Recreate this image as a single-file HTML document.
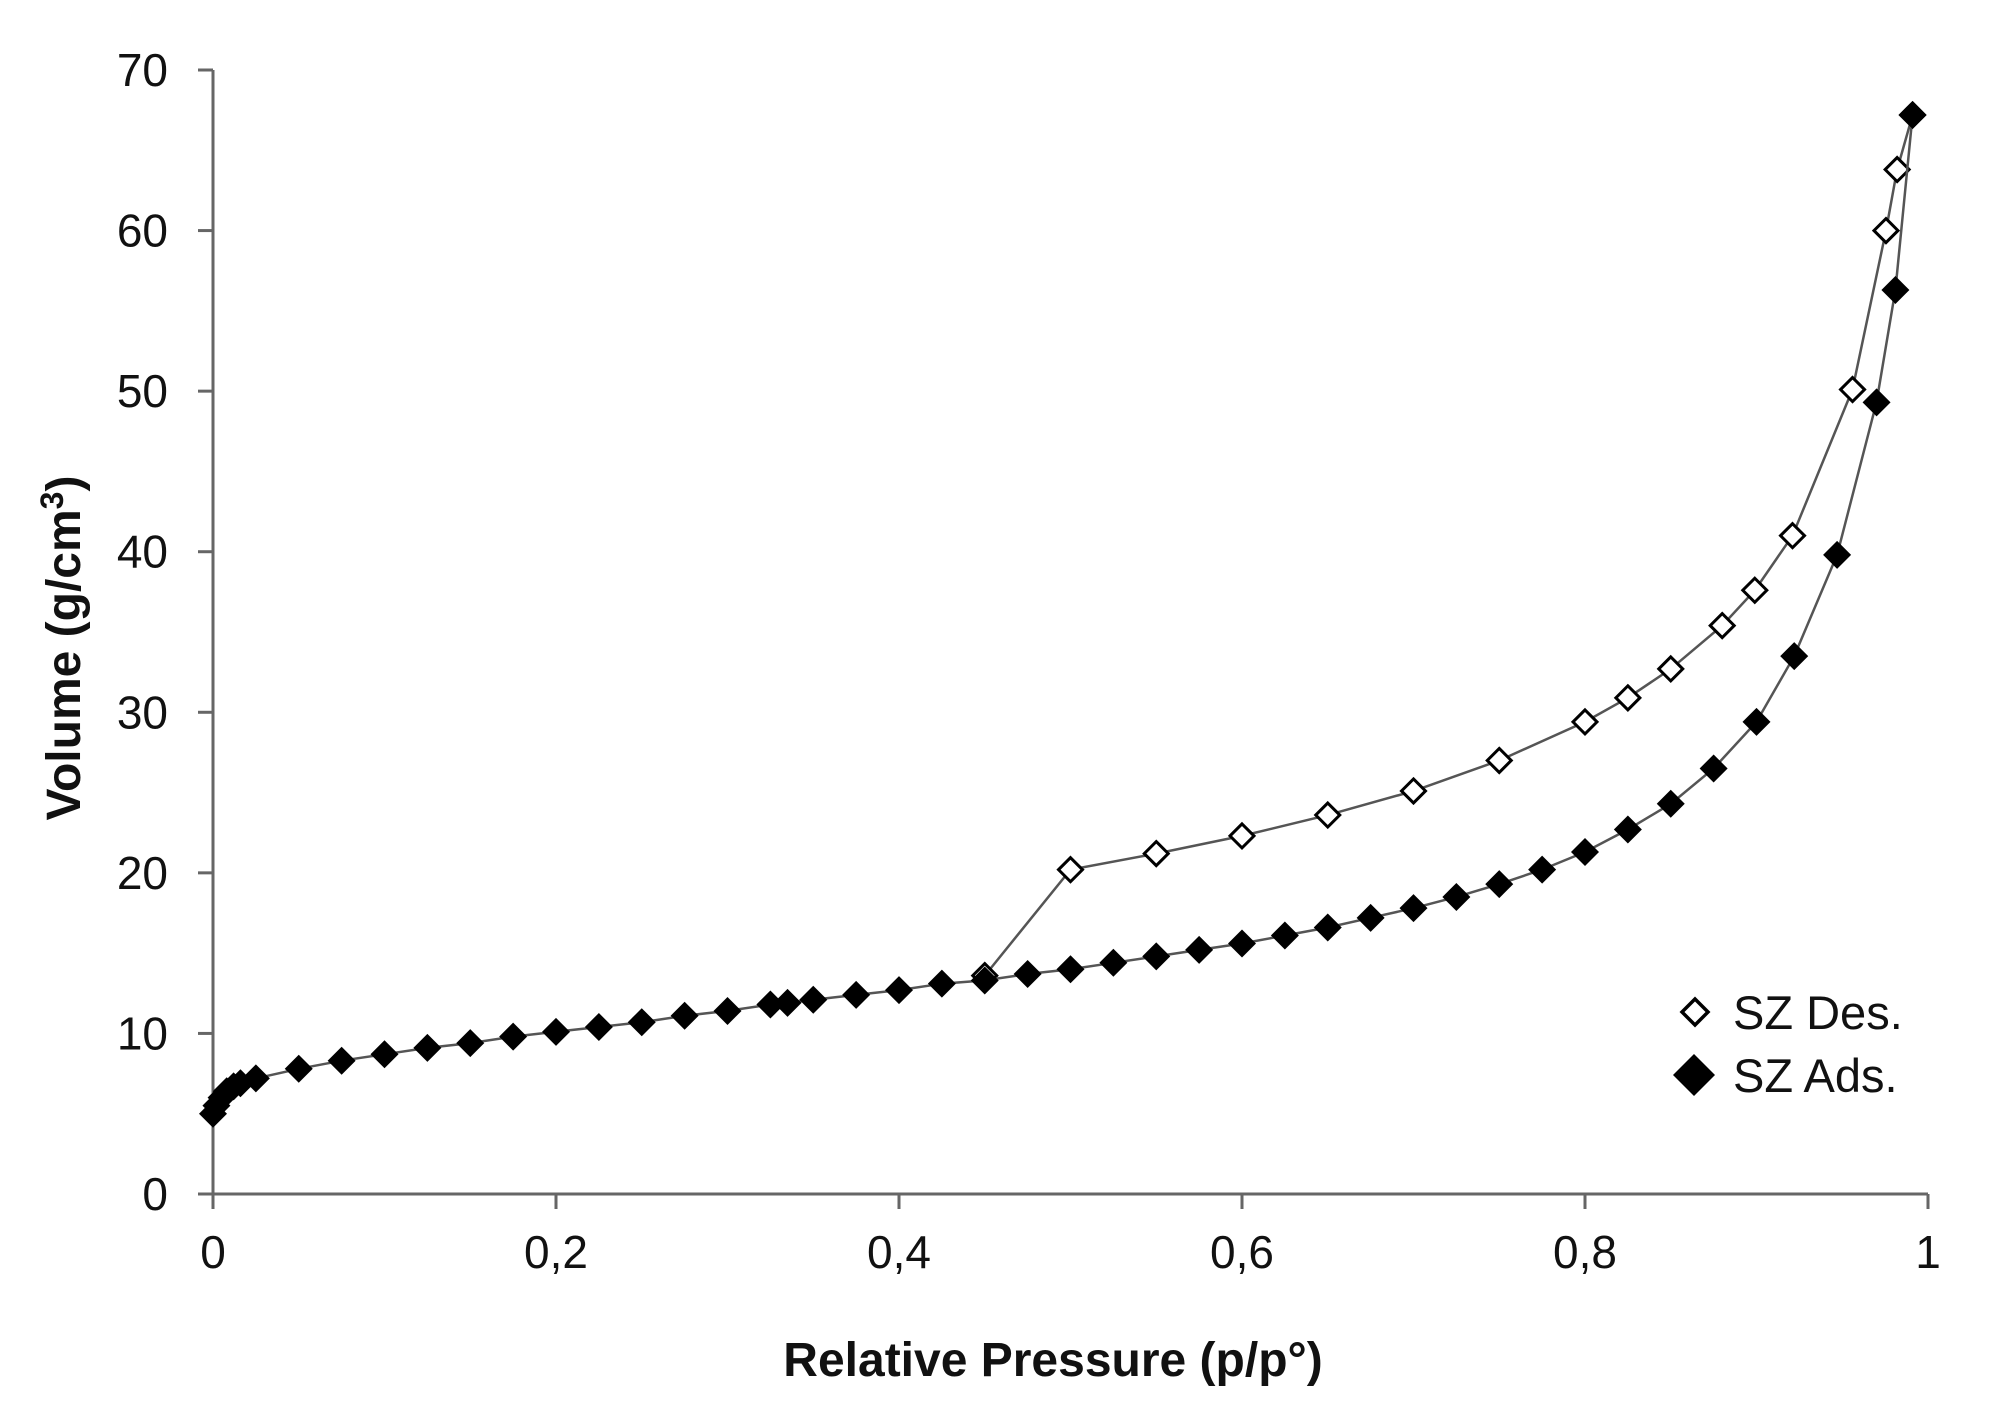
<!DOCTYPE html>
<html><head><meta charset="utf-8"><style>
html,body{margin:0;padding:0;background:#fff;}
svg text{font-family:"Liberation Sans",sans-serif;fill:#111;}
</style></head><body>
<svg id="chart" width="1992" height="1412" viewBox="0 0 1992 1412" xmlns="http://www.w3.org/2000/svg">
<g id="axes"></g>
<g id="series"></g>
<text x="0" y="0" transform="translate(80,648) rotate(-90)" text-anchor="middle" font-size="48" font-weight="bold">Volume (g/cm<tspan font-size="32" dy="-17">3</tspan><tspan dy="17">)</tspan></text>
<text x="1053" y="1376" text-anchor="middle" font-size="48" font-weight="bold">Relative Pressure (p/p°)</text>
<g>
  <path d="M1695,999 L1708,1012 L1695,1025 L1682,1012 Z" fill="#fff" stroke="#000" stroke-width="3.5"/>
  <text x="1733" y="1029" font-size="47">SZ Des.</text>
  <path d="M1694,1054 L1715,1075 L1694,1096 L1673,1075 Z" fill="#000"/>
  <text x="1733" y="1092" font-size="47">SZ Ads.</text>
</g>
</svg>
<script>
const xTicks = [0, 0.2, 0.4, 0.6, 0.8, 1];
const xTickLabels = ["0", "0,2", "0,4", "0,6", "0,8", "1"];
const yTicks = [0, 10, 20, 30, 40, 50, 60, 70];
const yTickLabels = ["0", "10", "20", "30", "40", "50", "60", "70"];
const adsX = [0,0.002,0.005,0.008,0.012,0.016,0.025,0.05,0.075,0.1,0.125,0.15,0.175,0.2,0.225,0.25,0.275,0.3,0.325,0.335,0.35,0.375,0.4,0.425,0.45,0.475,0.5,0.525,0.55,0.575,0.6,0.625,0.65,0.675,0.7,0.725,0.75,0.775,0.8,0.825,0.85,0.875,0.9,0.922,0.947,0.97,0.981,0.991];
const adsY = [5.0,5.5,6.0,6.4,6.7,6.9,7.2,7.8,8.3,8.7,9.1,9.4,9.8,10.1,10.4,10.7,11.1,11.4,11.8,11.9,12.1,12.4,12.7,13.1,13.3,13.7,14.0,14.4,14.8,15.2,15.6,16.1,16.6,17.2,17.8,18.5,19.3,20.2,21.3,22.7,24.3,26.5,29.4,33.5,39.8,49.3,56.3,67.2];
const desX = [0.45,0.5,0.55,0.6,0.65,0.7,0.75,0.8,0.825,0.85,0.88,0.899,0.921,0.956,0.9755,0.982,0.991];
const desY = [13.6,20.2,21.2,22.3,23.6,25.1,27.0,29.4,30.9,32.7,35.4,37.6,41.0,50.1,60.0,63.8,67.2];

const NS = "http://www.w3.org/2000/svg";
const X0 = 213, X1 = 1928, Y0 = 1194, Y1 = 70;
function sx(v){ return X0 + (X1 - X0) * v; }
function sy(v){ return Y0 - (Y0 - Y1) * v / 70; }
function mk(tag, attrs, parent){
  const e = document.createElementNS(NS, tag);
  for (const k in attrs) e.setAttribute(k, attrs[k]);
  parent.appendChild(e);
  return e;
}
const axes = document.getElementById('axes');
const series = document.getElementById('series');

let el = mk('line', {x1:X0, y1:Y1, x2:X0, y2:Y0, stroke:'#666', 'stroke-width':3}, axes);


el = mk('line', {x1:X0, y1:Y0, x2:X1, y2:Y0, stroke:'#666', 'stroke-width':3}, axes);



yTicks.forEach((t, i) => {
  const y = sy(t);
  let tk = mk('line', {x1:X0-15, y1:y, x2:X0, y2:y, stroke:'#666', 'stroke-width':3}, axes);
  
  
  let lb = mk('text', {x:168, y:y+16, 'text-anchor':'end', 'font-size':46}, axes);
  lb.textContent = yTickLabels[i];
  
  
});
xTicks.forEach((t, i) => {
  const x = sx(t);
  let tk = mk('line', {x1:x, y1:Y0, x2:x, y2:Y0+15, stroke:'#666', 'stroke-width':3}, axes);
  
  
  let lb = mk('text', {x:x, y:Y0+74, 'text-anchor':'middle', 'font-size':46}, axes);
  lb.textContent = xTickLabels[i];
  
  
});

function drawSeries(xs, ys, filled, name){
  const pts = xs.map((x, i) => sx(x).toFixed(1) + ',' + sy(ys[i]).toFixed(1)).join(' ');
  let pl = mk('polyline', {points:pts, fill:'none', stroke:'#555', 'stroke-width':2.5}, series);
  
  
  xs.forEach((x, i) => {
    const cx = sx(x), cy = sy(ys[i]), r = filled ? 14 : 12;
    const d = `M${cx},${cy-r} L${cx+r},${cy} L${cx},${cy+r} L${cx-r},${cy} Z`;
    let m = mk('path', filled ? {d:d, fill:'#000'} : {d:d, fill:'#fff', stroke:'#000', 'stroke-width':3}, series);
    
    
  });
}
drawSeries(desX, desY, false, 'des');
drawSeries(adsX, adsY, true, 'ads');
</script>
</body></html>
